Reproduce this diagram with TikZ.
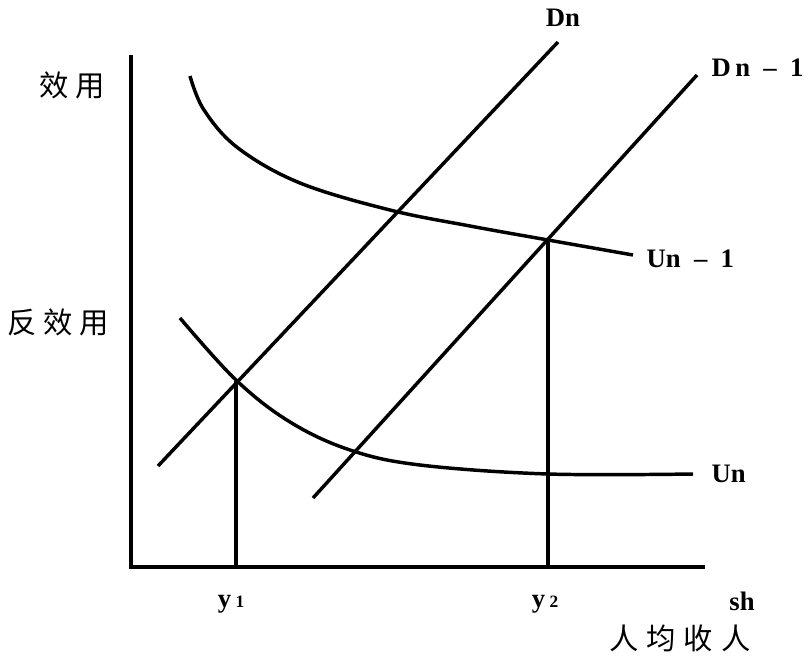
\documentclass[tikz,border=0pt]{standalone}
\usepackage{fontspec}
\setmainfont{Liberation Serif}
\newfontfamily\cjk{Noto Sans CJK SC}
\usetikzlibrary{positioning}

\begin{document}
\begin{tikzpicture}[
  x=0.75pt, y=-0.75pt,
  font=\fontsize{20}{23}\selectfont\bfseries,
  axis/.style={line width=2.6pt},
  curve/.style={line width=2.6pt, line join=round},
  zh/.style={font=\fontsize{22}{25}\selectfont\cjk},
  lbl/.style={inner sep=1pt}
]
\useasboundingbox (0,0) rectangle (811,657);
% axes
\coordinate (o) at (131,567);
\coordinate (ytop) at (131,55);
\coordinate (xend) at (705,567);
\draw[axis] (ytop) -- (o) -- (xend);

% demand lines
\coordinate (dn0) at (158,466);
\coordinate (dn1) at (558,42);
\coordinate (dm0) at (313,498);
\coordinate (dm1) at (697,75);
\draw[curve] (dn0) -- (dn1);
\draw[curve] (dm0) -- (dm1);

% utility curves
\draw[curve] plot[smooth, tension=0.6] coordinates
  {(190,76) (204,110) (238,148) (300,183) (390,210) (470,226) (548,240) (633,255)};
\draw[curve] plot[smooth, tension=0.6] coordinates
  {(180,318) (236,380) (290,422) (350,450) (420,465) (548,474) (693,474)};

% equilibrium points
\coordinate (e1) at (236,381);
\coordinate (e2) at (548,240);
\coordinate (f1) at (236,567);
\coordinate (f2) at (548,567);
\draw[curve] (e1) -- (f1);
\draw[curve] (e2) -- (f2);

% labels
\node[zh] (util) at (72,85) {效\hspace{5pt}用};
\node[zh] (disutil) at (58,322) {反\hspace{5pt}效\hspace{5pt}用};
\node[lbl] (dnlbl) at (563,18) {Dn};
\node[lbl, anchor=west] (dmlbl) at (710,68) {D\,n\ \ --\ \ 1};
\node[lbl, anchor=west] (umlbl) at (645,259) {Un\ \ --\ \ 1};
\node[lbl, anchor=west] (unlbl) at (710,474) {Un};
\node[lbl] (y1lbl) at (231,604) {y\,{\fontsize{13}{15}\selectfont 1}};
\node[lbl] (y2lbl) at (545,604) {y\,{\fontsize{13}{15}\selectfont 2}};
\node[lbl] (shlbl) at (742,601) {sh};
\node[zh] (inclbl) at (680,638) {人\hspace{6pt}均\hspace{6pt}收\hspace{6pt}人};
\end{tikzpicture}
\end{document}
